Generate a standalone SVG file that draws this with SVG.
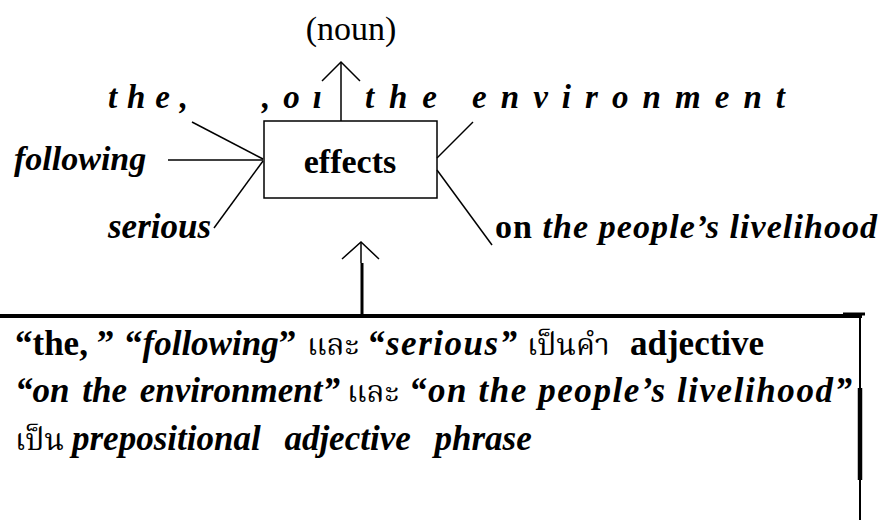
<svg xmlns="http://www.w3.org/2000/svg" width="881" height="520" viewBox="0 0 881 520">
<style>
.s{font-family:"Liberation Serif","Times New Roman",serif;fill:#000}
.bi{font-weight:bold;font-style:italic}
.b{font-weight:bold}
.th{font-family:"Noto Serif Thai","Noto Sans Thai","Loma","Garuda","Noto Sans","DejaVu Sans",sans-serif;font-weight:normal;font-style:normal}
.ln{stroke:#000;stroke-width:1.5;fill:none}
</style>
<rect width="881" height="520" fill="#fff"/>
<g id="connectors">
<line class="ln" x1="341" y1="121" x2="341" y2="62"/>
<polyline class="ln" points="322,81 341,62 360,81"/>
<line class="ln" x1="192" y1="122" x2="263" y2="159"/>
<line class="ln" x1="168" y1="160" x2="263" y2="160"/>
<line class="ln" x1="263" y1="161" x2="214" y2="228"/>
<line class="ln" x1="437" y1="158" x2="473" y2="122"/>
<line class="ln" x1="437" y1="170" x2="492" y2="245"/>
<polyline class="ln" points="342,259 361,242 379,259"/>
<line class="ln" x1="361" y1="242" x2="361" y2="263"/>
<line stroke="#000" stroke-width="3" x1="362" y1="263" x2="362" y2="317"/>
</g>
<g id="noun-label"><text class="s" x="351" y="40" font-size="34" text-anchor="middle">(noun)</text></g>
<g id="effects"><rect x="264" y="121" width="173" height="77" fill="none" stroke="#000" stroke-width="1.5"/><text class="s b" x="350" y="173" font-size="34" text-anchor="middle">effects</text></g>
<g id="the"><text class="s bi" x="108" y="108" font-size="33" textLength="80">t h e ,</text></g>
<g id="on-the-environment">
<text class="s bi" x="262" y="108" font-size="33" textLength="60">, o ı</text>
<text class="s bi" x="365" y="108" font-size="33" textLength="72">t h e</text>
<text class="s bi" x="472" y="108" font-size="33" textLength="313">e n v i r o n m e n t</text>
</g>
<g id="following"><text class="s bi" x="14" y="170" font-size="34">following</text></g>
<g id="serious"><text class="s bi" x="108" y="238" font-size="35">serious</text></g>
<g id="livelihood"><text class="s bi" x="495" y="238" font-size="34" textLength="382"><tspan font-style="normal">on</tspan> the people’s livelihood</text></g>
<g id="note-box">
<line stroke="#000" stroke-width="4" x1="0" y1="316" x2="862" y2="316"/>
<line stroke="#000" stroke-width="3" x1="843" y1="314" x2="865" y2="314"/>
<line stroke="#000" stroke-width="2" x1="860" y1="314" x2="860" y2="520"/>
<line stroke="#000" stroke-width="4.5" x1="860" y1="388" x2="860" y2="480"/>
<g font-size="35">
<text class="s b" x="15" y="355">“the, ”</text>
<text class="s b" x="125" y="355">“<tspan font-style="italic">following</tspan>”</text>
<text class="s th" x="307" y="355" font-size="30">และ</text>
<text class="s bi" x="367" y="355" textLength="150">“serious”</text>
<text class="s th" x="527" y="355" font-size="30">เป็นคำ</text>
<text class="s b" x="630" y="355">adjective</text>
<text class="s bi" x="15" y="402" word-spacing="4">“on the environment”</text>
<text class="s th" x="347" y="402" font-size="30">และ</text>
<text class="s bi" x="409" y="402" textLength="443">“on the people’s livelihood”</text>
<text class="s th" x="15" y="450" font-size="30">เป็น</text>
<text class="s bi" x="72" y="450" word-spacing="15">prepositional adjective phrase</text>
</g>
</g>
</svg>
